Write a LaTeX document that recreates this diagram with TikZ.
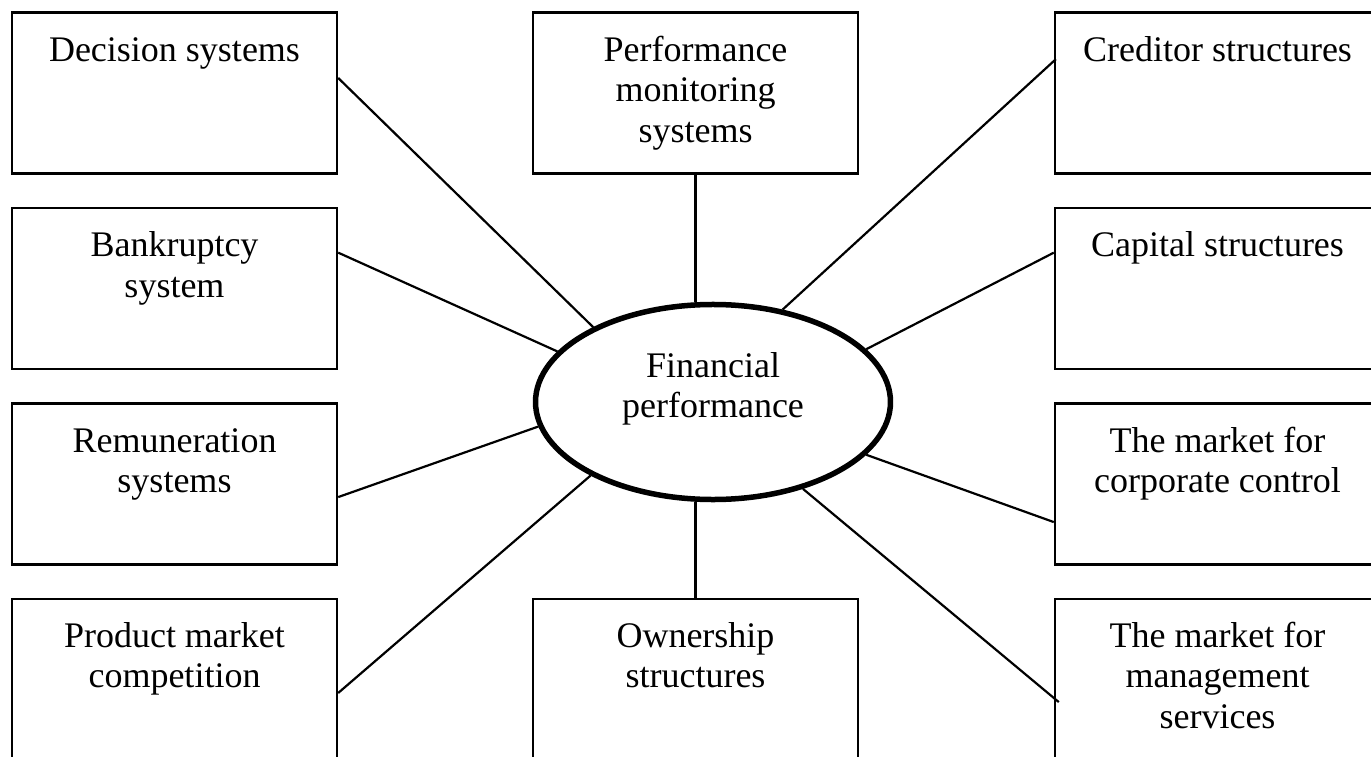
\documentclass[tikz,border=0pt]{standalone}
\usepackage{fontspec}
\setmainfont{Liberation Serif}
\usetikzlibrary{shapes.geometric,calc}

% fixed-size box contents: text centred and hung from the top edge
\newcommand{\panellabel}[1]{\parbox[c][161pt][t]{325pt}{\centering\rule{0pt}{48.5pt}#1}}

\tikzset{
  panel/.style={draw, rectangle, line width=2.4pt, inner sep=0pt,
                font=\fontsize{36pt}{40.5pt}\selectfont},
  hub/.style={draw, ellipse, line width=5.5pt, inner sep=0pt,
              font=\fontsize{36pt}{40.5pt}\selectfont},
  link/.style={line width=2.2pt},
}

\begin{document}
\begin{tikzpicture}[x=1pt, y=-1pt]
  \useasboundingbox (0,0) rectangle (1371,757);
  \clip (0,0) rectangle (1371,757);

  % left column
  \node[panel] (dec)  at (174.5, 93.2)  {\panellabel{Decision systems}};
  \node[panel] (bank) at (174.5, 288.6) {\panellabel{Bankruptcy\\system}};
  \node[panel] (rem)  at (174.5, 484.0) {\panellabel{Remuneration\\systems}};
  \node[panel] (prod) at (174.5, 679.4) {\panellabel{Product market\\competition}};

  % middle column
  \node[panel] (perf) at (695.5, 93.2)  {\panellabel{Performance\\monitoring\\systems}};
  \node[panel] (own)  at (695.5, 679.4) {\panellabel{Ownership\\structures}};

  % right column
  \node[panel] (cred) at (1217.5, 93.2)  {\panellabel{Creditor structures}};
  \node[panel] (cap)  at (1217.5, 288.6) {\panellabel{Capital structures}};
  \node[panel] (corp) at (1217.5, 484.0) {\panellabel{The market for\\corporate control}};
  \node[panel] (mgmt) at (1217.5, 679.4) {\panellabel{The market for\\management\\services}};

  % central ellipse
  \node[hub] (fin) at (713, 402)
    {\parbox[c][137.9pt][t]{251pt}{\centering\rule{0pt}{44pt}Financial\\performance}};

  % connectors
  \draw[link] ($(dec.north east)!0.407!(dec.south east)$)   -- (fin.148);
  \draw[link] ($(bank.north east)!0.28!(bank.south east)$)  -- (fin.162.3);
  \draw[link] ($(rem.north east)!0.58!(rem.south east)$)    -- (fin.188.3);
  \draw[link] ($(prod.north east)!0.583!(prod.south east)$) -- (fin.211);

  \draw[link] (perf.south) -- (perf.south |- fin.north);
  \draw[link] (own.north)  -- (own.north |- fin.south);

  \draw[link] ($(cred.north west)!0.292!(cred.south west)+(2,0)$) -- (fin.53.1);
  \draw[link] ($(cap.north west)!0.28!(cap.south west)$)          -- (fin.19.9);
  \draw[link] ($(corp.north west)!0.733!(corp.south west)$)       -- (fin.341.5);
  \draw[link] ($(mgmt.north west)!0.639!(mgmt.south west)+(5,0)$) -- (fin.316.9);
\end{tikzpicture}
\end{document}
